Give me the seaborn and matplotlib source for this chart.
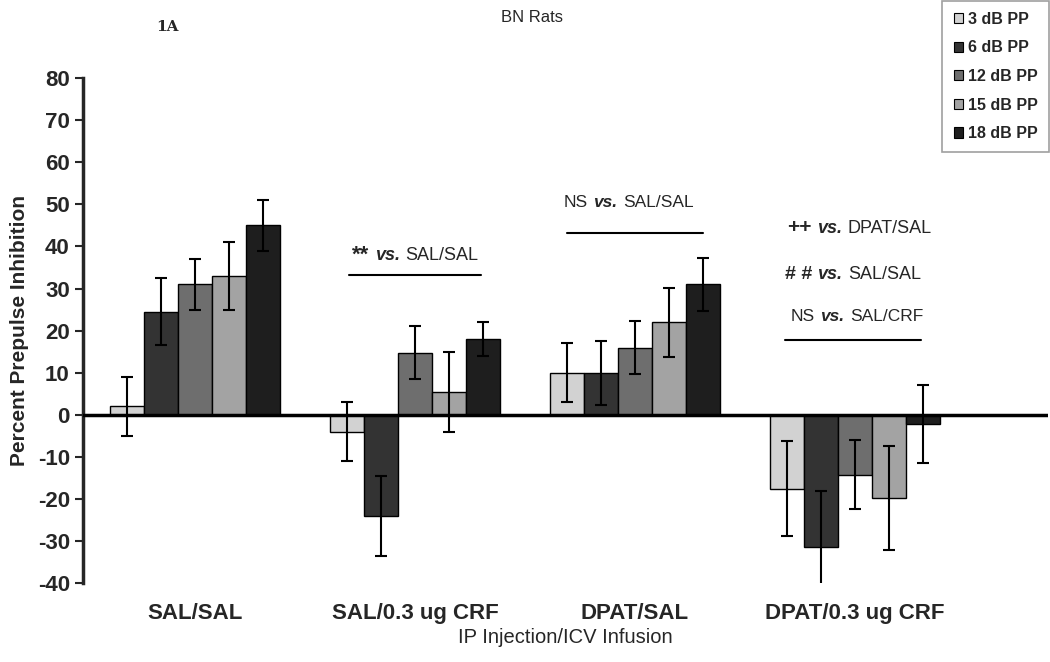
import pandas as pd
import matplotlib
matplotlib.use("Agg")
import matplotlib.pyplot as plt
import seaborn as sns
from matplotlib.offsetbox import TextArea, HPacker, AnnotationBbox

# Data
groups = ["SAL/SAL", "SAL/0.3 ug CRF", "DPAT/SAL", "DPAT/0.3 ug CRF"]
levels = ["3 dB PP", "6 dB PP", "12 dB PP", "15 dB PP", "18 dB PP"]

pp_3 = [2.0, -4.0, 10.0, -17.6]
pp_6 = [24.5, -24.0, 10.0, -31.4]
pp_12 = [31.0, 14.7, 16.0, -14.2]
pp_15 = [33.0, 5.5, 22.0, -19.7]
pp_18 = [45.0, 18.0, 31.0, -2.2]

err_3 = [7.0, 7.0, 7.0, 11.3]
err_6 = [8.0, 9.5, 7.6, 13.3]
err_12 = [6.0, 6.3, 6.3, 8.2]
err_15 = [8.0, 9.5, 8.2, 12.3]
err_18 = [6.0, 4.0, 6.3, 9.2]

colors = ["#d2d2d2", "#333333", "#6e6e6e", "#a3a3a3", "#1e1e1e"]

vals = [pp_3, pp_6, pp_12, pp_15, pp_18]
errs = [err_3, err_6, err_12, err_15, err_18]

rows = []
for lv, v, e in zip(levels, vals, errs):
    for g, vi, ei in zip(groups, v, e):
        rows.append({"Group": g, "Level": lv, "PPI": vi, "SEM": ei})
df = pd.DataFrame(rows)

sns.set_style("white")
plt.rcParams["font.family"] = ["Liberation Sans", "DejaVu Sans"]
plt.rcParams["axes.unicode_minus"] = False

fig = plt.figure(figsize=(10.5, 6.62), dpi=100)
ax = fig.add_axes([0.079, 0.119, 0.919, 0.763])

sns.barplot(data=df, x="Group", y="PPI", hue="Level", order=groups,
            hue_order=levels, palette=colors, width=0.77, errorbar=None,
            edgecolor="black", linewidth=1.0, ax=ax, legend=False)

# error bars on each bar
for cont, lv in zip(ax.containers, levels):
    sub = df[df["Level"] == lv].set_index("Group").loc[groups]
    xs = [p.get_x() + p.get_width() / 2 for p in cont]
    ax.errorbar(xs, sub["PPI"], yerr=sub["SEM"], fmt="none", ecolor="black",
                elinewidth=1.5, capsize=4, capthick=1.5, zorder=5)

ax.axhline(0, color="black", lw=2.5, zorder=6)
ax.set_ylim(-40, 80)
ax.set_xlim(-0.509, 3.877)
ax.set_yticks(range(-40, 81, 10))
ax.tick_params(axis="y", direction="out", length=6, width=1.5, left=True,
               labelsize=16)
for t in ax.get_yticklabels():
    t.set_fontweight("bold")
ax.tick_params(axis="x", length=0, labelsize=16, pad=14)
for t in ax.get_xticklabels():
    t.set_fontweight("bold")

for s in ["top", "right", "bottom"]:
    ax.spines[s].set_visible(False)
ax.spines["left"].set_linewidth(2.5)

ax.set_ylabel("Percent Prepulse Inhibition", fontsize=15, fontweight="bold",
              labelpad=6)
ax.set_xlabel("IP Injection/ICV Infusion", fontsize=14.5, labelpad=3)

# titles
fig.text(0.159, 0.959, "1A", fontsize=11, fontweight="bold",
         family="DejaVu Serif", ha="center", va="center")
fig.text(0.507, 0.973, "BN Rats", fontsize=12, ha="center", va="center")


def sig_label(x, y, prefix, rest, size=12.5, psize=13, pweight="bold"):
    parts = [
        TextArea(prefix, textprops=dict(fontsize=psize, fontweight=pweight)),
        TextArea("vs.", textprops=dict(fontsize=size, fontweight="bold",
                                       style="italic")),
        TextArea(rest, textprops=dict(fontsize=size)),
    ]
    box = HPacker(children=parts, sep=4, pad=0, align="baseline")
    ab = AnnotationBbox(box, (x, y), frameon=False, box_alignment=(0.5, 0.5),
                        pad=0)
    ax.add_artist(ab)


# significance annotations
sig_label(1.0, 38.0, "**", "SAL/SAL", size=13, psize=16)
ax.plot([0.70, 1.30], [33.3, 33.3], color="black", lw=1.5)

sig_label(1.97, 50.4, "NS", "SAL/SAL", size=12.5, psize=12.5, pweight="normal")
ax.plot([1.69, 2.31], [43.2, 43.2], color="black", lw=1.5)

sig_label(3.02, 44.4, "++", "DPAT/SAL", size=13, psize=15)
sig_label(2.99, 33.3, "# #", "SAL/SAL", size=13, psize=14)
sig_label(3.01, 23.3, "NS", "SAL/CRF", size=12.5, psize=12.5, pweight="normal")
ax.plot([2.68, 3.30], [17.8, 17.8], color="black", lw=1.5)

# legend
handles = [plt.Rectangle((0, 0), 1, 1, facecolor=c, edgecolor="black", lw=0.8)
           for c in colors]
leg = fig.legend(handles, levels, loc="upper right", bbox_to_anchor=(0.999, 0.999),
                 fontsize=11.5, frameon=True, fancybox=False, handlelength=0.6,
                 handleheight=0.6, handletextpad=0.3, labelspacing=0.85,
                 borderpad=0.7, borderaxespad=0)
leg.get_frame().set_edgecolor("#888888")
leg.get_frame().set_linewidth(1.2)
for t in leg.get_texts():
    t.set_fontweight("bold")

fig.savefig("out.png", dpi=100)
